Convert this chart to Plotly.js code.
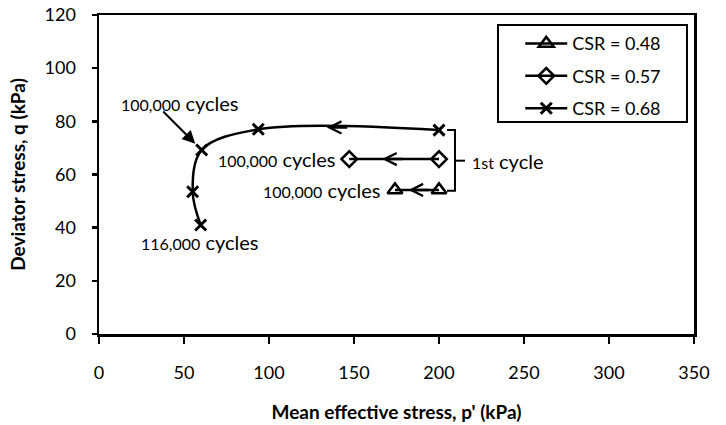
<!DOCTYPE html>
<html>
<head>
<meta charset="utf-8">
<script src="https://cdn.plot.ly/plotly-3.0.1.min.js"></script>
<style>html,body{margin:0;padding:0;background:#fff;}#chart{width:726px;height:425px;}</style>
</head>
<body>
<div id="chart"></div>
<script>
// Data
const seriesNames = ['CSR = 0.48', 'CSR = 0.57', 'CSR = 0.68'];
const csr48P = [200, 174.1];
const csr48Q = [54.2, 54.2];
const csr57P = [200, 147.2];
const csr57Q = [65.8, 65.8];
const csr68P = [200, 93.7, 60.4, 55.1, 59.8];
const csr68Q = [76.7, 77.0, 69.2, 53.5, 41.0];
// direction chevrons on each path
const arrowP = [134, 166.5, 182];
const arrowQ = [77.7, 65.8, 54.2];
// bracket grouping the first cycles
const bracketP = [204.7, 209.4, 209.4, 204.7, null, 209.4, 215.3];
const bracketQ = [76.7, 76.7, 53.9, 53.9, null, 65.2, 65.2];
// text labels
const labelText = ['100,000', '100,000', '100,000', '116,000'];
const labelP = [47.6, 140.6, 167.0, 59.4];
const labelQ = [86.9, 65.7, 54.0, 34.6];
const firstCycleP = 218.5, firstCycleQ = 65.2;
const pointerP = 60.4, pointerQ = 69.2;

const FONT = 'Lato, "Open Sans", sans-serif';
const black = '#000';

const m48 = {symbol: 'triangle-up-open', size: 13, color: black, line: {color: black, width: 2.5}};
const m57 = {symbol: 'diamond-open', size: 12, color: black, line: {color: black, width: 2.5}};
const m68 = {symbol: 'x-thin', size: 11, color: black, line: {color: black, width: 3}};

const traces = [
  {x: csr48P, y: csr48Q, name: seriesNames[0], legendgroup: 'a', mode: 'lines+markers',
   line: {color: black, width: 2.5}, marker: m48},
  {x: csr57P, y: csr57Q, name: seriesNames[1], legendgroup: 'b', mode: 'lines+markers',
   line: {color: black, width: 2.5}, marker: m57},
  {x: csr68P, y: csr68Q, name: seriesNames[2], legendgroup: 'c', mode: 'lines+markers', showlegend: false,
   line: {color: black, width: 2.5, shape: 'spline', smoothing: 1}, marker: m68},
  // legend entry for the smoothed CSR = 0.68 path
  {x: [null], y: [null], name: seriesNames[2], legendgroup: 'c', mode: 'lines+markers',
   line: {color: black, width: 2.5}, marker: m68},
  {x: bracketP, y: bracketQ, mode: 'lines', showlegend: false, hoverinfo: 'skip',
   line: {color: black, width: 2}}
];

const annotations = [];
arrowP.forEach((p, i) => {
  annotations.push({x: p, y: arrowQ[i], xref: 'x', yref: 'y', text: '', showarrow: true,
    ax: 22, ay: 0, arrowhead: 5, arrowsize: 0.95, arrowwidth: 2.5, arrowcolor: black, standoff: 0});
});
const anchors = ['center', 'right', 'right', 'center'];
labelText.forEach((t, i) => {
  annotations.push({x: labelP[i], y: labelQ[i], xref: 'x', yref: 'y', showarrow: false,
    xanchor: anchors[i], yanchor: 'middle',
    text: "<span style='font-size:16px'>" + t + "</span> cycles",
    font: {family: FONT, size: 20, color: black}});
});
annotations.push({x: firstCycleP, y: firstCycleQ, xref: 'x', yref: 'y', showarrow: false,
  xanchor: 'left', yanchor: 'middle',
  text: "<span style='font-size:16px'>1st</span> cycle",
  font: {family: FONT, size: 20, color: black}});
annotations.push({x: pointerP, y: pointerQ, xref: 'x', yref: 'y', text: '', showarrow: true,
  ax: -40, ay: -40, arrowhead: 2, arrowsize: 1.3, arrowwidth: 2, arrowcolor: black, standoff: 9});

const layout = {
  width: 726, height: 425,
  margin: {l: 99, r: 32, t: 15, b: 91},
  paper_bgcolor: '#fff', plot_bgcolor: '#fff',
  font: {family: FONT, size: 18, color: black},
  showlegend: true,
  legend: {x: 0.708, y: 0.968, xanchor: 'left', yanchor: 'top', bgcolor: 'rgba(0,0,0,0)',
    borderwidth: 0, font: {family: FONT, size: 18, color: black}, tracegroupgap: 6,
    traceorder: 'grouped', itemwidth: 42},
  xaxis: {range: [0, 350], dtick: 50, tick0: 0, showgrid: false, zeroline: false,
    showline: true, linecolor: black, linewidth: 2.5, mirror: true,
    ticks: 'outside', ticklen: 7, tickwidth: 2.5, tickcolor: black, ticklabelstandoff: 14,
    tickfont: {family: FONT, size: 18, color: black},
    title: {text: "Mean effective stress, p' (kPa)", standoff: 24,
      font: {family: FONT, size: 19, color: black, weight: 'bold'}}},
  yaxis: {range: [0, 120], dtick: 20, tick0: 0, showgrid: false, zeroline: false,
    showline: true, linecolor: black, linewidth: 2.5, mirror: true,
    ticks: 'outside', ticklen: 5, tickwidth: 2.5, tickcolor: black, ticklabelstandoff: 12,
    tickfont: {family: FONT, size: 18, color: black},
    title: {text: 'Deviator stress, q (kPa)', standoff: 14,
      font: {family: FONT, size: 19, color: black, weight: 'bold'}}},
  shapes: [{type: 'rect', xref: 'paper', yref: 'paper', x0: 0.6706, x1: 0.9882, y0: 0.6646, y1: 0.9687,
    line: {color: black, width: 2}, fillcolor: 'rgba(0,0,0,0)'}],
  annotations: annotations
};

Plotly.newPlot('chart', traces, layout, {staticPlot: true, displayModeBar: false});
</script>
</body>
</html>
